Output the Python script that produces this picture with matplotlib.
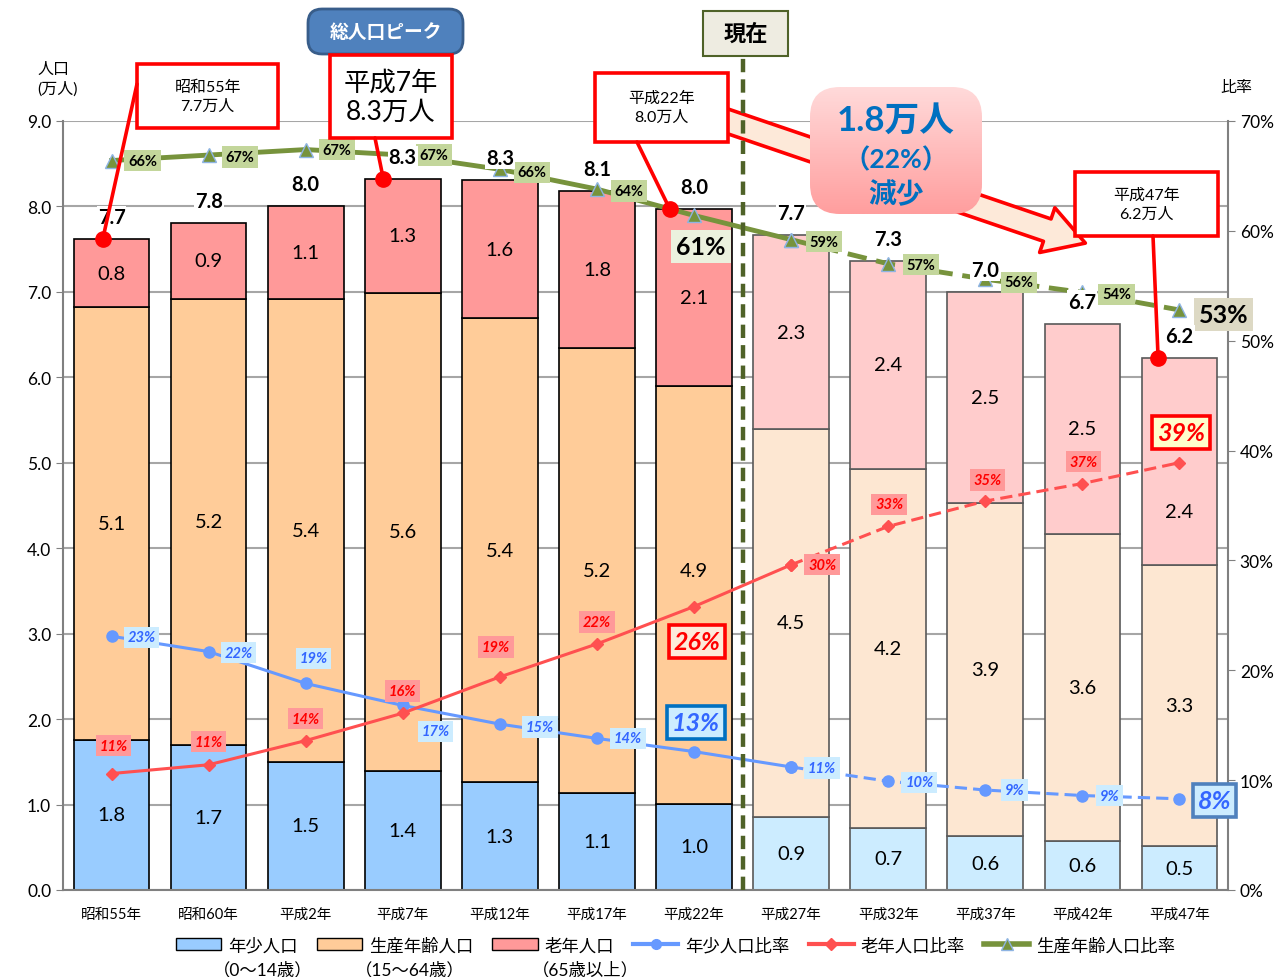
import matplotlib.pyplot as plt
import numpy as np
from matplotlib.patches import FancyBboxPatch, FancyArrowPatch, Rectangle, Patch, ConnectionPatch
from matplotlib.lines import Line2D
from matplotlib.colors import LinearSegmentedColormap

plt.rcParams['font.family'] = ['Lato', 'Noto Sans CJK JP', 'DejaVu Sans']

# 人口(万人)と比率(%)
years = ['昭和55年', '昭和60年', '平成2年', '平成7年', '平成12年', '平成17年',
         '平成22年', '平成27年', '平成32年', '平成37年', '平成42年', '平成47年']
young = [1.76, 1.70, 1.50, 1.39, 1.26, 1.14, 1.01, 0.86, 0.73, 0.63, 0.57, 0.51]
working = [5.06, 5.22, 5.42, 5.60, 5.43, 5.20, 4.89, 4.53, 4.20, 3.90, 3.60, 3.29]
old = [0.80, 0.89, 1.09, 1.33, 1.62, 1.84, 2.07, 2.27, 2.43, 2.47, 2.46, 2.43]
totals = [7.7, 7.8, 8.0, 8.3, 8.3, 8.1, 8.0, 7.7, 7.3, 7.0, 6.7, 6.2]
young_pct = [23.1, 21.7, 18.8, 16.8, 15.1, 13.8, 12.6, 11.2, 9.9, 9.1, 8.6, 8.3]
old_pct = [10.6, 11.4, 13.6, 16.1, 19.4, 22.4, 25.8, 29.6, 33.1, 35.4, 37.0, 38.9]
working_pct = [66.4, 66.9, 67.4, 66.9, 65.6, 63.8, 61.4, 59.2, 57.0, 55.6, 54.4, 52.8]

n = len(years)
x = np.arange(n)
n_past = 7  # 平成22年まで実績、以降は推計

W, H = 1287, 978
fig = plt.figure(figsize=(W / 100, H / 100), dpi=100)
ax = fig.add_axes([63 / W, 1 - 891 / H, (1228 - 63) / W, (891 - 122) / H])

def cols(c_past, c_fut):
    return [c_past if i < n_past else c_fut for i in range(n)]

edges = cols('black', '#595959')
bw = 0.78
bottom2 = np.array(young)
bottom3 = bottom2 + np.array(working)
tops = bottom3 + np.array(old)
ax.bar(x, young, bw, color=cols('#99CCFF', '#CCECFF'), edgecolor=edges, lw=1.2, zorder=2)
ax.bar(x, working, bw, bottom=bottom2, color=cols('#FFCC99', '#FDE7D2'), edgecolor=edges, lw=1.2, zorder=2)
ax.bar(x, old, bw, bottom=bottom3, color=cols('#FF9999', '#FFCCCC'), edgecolor=edges, lw=1.2, zorder=2)

# 数値ラベル (一部は重なり回避のため位置をずらす)
shift_working = {6: 0.29}
shift_old = {11: -0.58}
for i in range(n):
    ax.text(i, young[i] / 2, f'{young[i]:.1f}', ha='center', va='center', fontsize=14.5, zorder=3)
    ax.text(i, bottom2[i] + working[i] / 2 + shift_working.get(i, 0), f'{working[i]:.1f}',
            ha='center', va='center', fontsize=14.5, zorder=3)
    ax.text(i, bottom3[i] + old[i] / 2 + shift_old.get(i, 0), f'{old[i]:.1f}',
            ha='center', va='center', fontsize=14.5, zorder=3)

ax.set_xlim(-0.5, n - 0.5)
ax.set_ylim(0, 9)
ax.set_yticks(np.arange(0, 9.01, 1.0))
ax.set_yticklabels([f'{v:.1f}' for v in np.arange(0, 9.01, 1.0)])
ax.set_xticks(x)
ax.set_xticklabels(years, fontsize=10.5)
ax.tick_params(axis='x', length=0, pad=12)
ax.tick_params(axis='y', labelsize=12.5, length=5, color='#808080')
ax.grid(axis='y', color='#A6A6A6', lw=1.5)
ax.set_axisbelow(True)
for s in ['top', 'right']:
    ax.spines[s].set_visible(False)
for s in ['left', 'bottom']:
    ax.spines[s].set_color('#808080')
    ax.spines[s].set_linewidth(1.5)

ax2 = ax.twinx()
ax2.set_ylim(0, 70)
ax2.set_yticks(range(0, 71, 10))
ax2.set_yticklabels([f'{v}%' for v in range(0, 71, 10)])
ax2.tick_params(axis='y', labelsize=12.5, length=5, color='#808080')
for s in ['top', 'left', 'bottom']:
    ax2.spines[s].set_visible(False)
ax2.spines['right'].set_color('#808080')
ax2.spines['right'].set_linewidth(1.5)

series = [
    (young_pct, '#6699FF', 'o', dict(ms=8, mfc='#6699FF', mec='#6699FF')),
    (old_pct, '#FF5050', 'D', dict(ms=6, mfc='#FF5050', mec='#FF5050')),
    (working_pct, '#77933C', '^', dict(ms=10, mfc='#77933C', mec='#8EB4E3')),
]
for vals, c, m, kw in series:
    lw = 3.5 if c == '#77933C' else 2.2
    ax2.plot(x[:n_past + 1], vals[:n_past + 1], color=c, lw=lw, marker=m, zorder=4, **kw)
    ax2.plot(x[n_past:], vals[n_past:], color=c, lw=lw, marker=m, dashes=(4, 2), zorder=4, **kw)

young_off = [(30, -1), (30, -1), (8, 25), (33, -26), (40, -3), (31, 0), (2, 29),
             (31, -1), (31, -1), (29, 0), (27, 0), (35, -2)]
old_off = [(2, 28), (0, 23), (0, 22), (0, 22), (-4, 30), (0, 22), (3, -35),
           (31, 0), (1, 22), (2, 21), (1, 22), (2, 30)]
working_off = [(31, 0), (31, -2), (31, 0), (31, 0), (32, -3), (32, -2), (7, -31),
               (33, -2), (33, -1), (34, -3), (34, -2), (44, -5)]

small = {
    'young': dict(color='#3366FF', style='italic', bbox=dict(boxstyle='square,pad=0.25', fc='#CCECFF', ec='none')),
    'old': dict(color='#FF0000', style='italic', bbox=dict(boxstyle='square,pad=0.25', fc='#FF9999', ec='none')),
    'working': dict(color='black', style='normal', bbox=dict(boxstyle='square,pad=0.25', fc='#C3D69B', ec='none')),
}
big = {
    ('young', 6): dict(fc='#CCECFF', ec='#0070C0'),
    ('young', 11): dict(fc='#CCECFF', ec='#4F81BD'),
    ('old', 6): dict(fc='#FDEADA', ec='#FF0000'),
    ('old', 11): dict(fc='#FFFFCC', ec='#FF0000'),
    ('working', 6): dict(fc='#EBF1DE', ec='none'),
    ('working', 11): dict(fc='#DDD9C4', ec='none'),
}
for key, vals, offs in [('young', young_pct, young_off), ('old', old_pct, old_off),
                        ('working', working_pct, working_off)]:
    for i in range(n):
        st = dict(small[key])
        fs = 10.5
        if (key, i) in big:
            b = big[(key, i)]
            st['bbox'] = dict(boxstyle='square,pad=0.2', fc=b['fc'], ec=b['ec'], lw=2.6)
            fs = 18
        ax2.annotate(f'{vals[i]:.0f}%', (i, vals[i]), xytext=offs[i], textcoords='offset pixels',
                     ha='center', va='center', fontsize=fs, fontweight='bold', zorder=6, **st)

# 注釈用のピクセル座標レイヤー
ov = fig.add_axes([0, 0, 1, 1], zorder=3)
ov.axis('off')

# 合計値 (折れ線の上に表示)
for i in range(n):
    ov.annotate(f'{totals[i]:.1f}', (i, tops[i]), xycoords=ax.transData, xytext=(0, 22),
                textcoords='offset pixels', ha='center', va='center', fontsize=14.5,
                fontweight='bold', zorder=2,
                bbox=dict(boxstyle='square,pad=0.05', fc='white', ec='none'))

ov.text(37, 80, '人口\n(万人)', ha='left', va='center', fontsize=11.5, linespacing=1.35)
ov.text(1236, 88, '比率', ha='center', va='center', fontsize=11.5)

# 矢印
arr = FancyArrowPatch((715, 118), (1088, 245),
                      arrowstyle='simple,head_length=2.9,head_width=3.4,tail_width=1.7',
                      mutation_scale=10, fc='#FDE9D9', ec='#FF0000', lw=2.6, zorder=1)
ov.add_patch(arr)

# 現在
ov.plot([6.5, 6.5], [0, 9.76], transform=ax.transData, color='#4F6228', lw=3.2,
        dashes=(3, 1.6), zorder=2, clip_on=False)
ov.add_patch(Rectangle((703, 12), 85, 45, fc='#EEECE1', ec='#4F6228', lw=1.5, zorder=3))
ov.text(745.5, 34, '現在', ha='center', va='center', fontsize=16, fontweight='bold', zorder=4)

# 総人口ピーク
ov.add_patch(FancyBboxPatch((308, 10), 155, 45, boxstyle='round,pad=0,rounding_size=14',
                            fc='#4F81BD', ec='#385D8A', lw=2, zorder=3))
ov.text(385.5, 32, '総人口ピーク', ha='center', va='center', fontsize=13.5, color='white',
        fontweight='bold', zorder=4)

# 吹き出し
callouts = [
    ((137, 65, 141, 64), '昭和55年\n7.7万人', 11.5, (137, 85), 0, -0.09),
    ((330, 56, 122, 83), '平成7年\n8.3万人', 19, (375, 139), 3, -0.2),
    ((595, 74, 133, 69), '平成22年\n8.0万人', 11.5, (637, 143), 6, -0.25),
    ((1075, 173, 143, 64), '平成47年\n6.2万人', 11.5, (1153, 237), 11, -0.22),
]
for (bx, by, bwid, bh), txt, fs, start, idx, dx in callouts:
    ov.add_patch(Rectangle((bx, by), bwid, bh, fc='white', ec='#FF0000', lw=2.6, zorder=3))
    ov.text(bx + bwid / 2, by + bh / 2, txt, ha='center', va='center', fontsize=fs,
            linespacing=1.45 if fs < 15 else 1.2, zorder=4)
    cp = ConnectionPatch(xyA=start, coordsA=ov.transData, xyB=(idx + dx, tops[idx]),
                         coordsB=ax.transData, color='#FF0000', lw=2.6, zorder=5)
    ov.add_artist(cp)
    ov.plot([idx + dx], [tops[idx]], 'o', color='#FF0000', ms=11, transform=ax.transData,
            zorder=6, clip_on=False)

# 減少ボックス
pink = FancyBboxPatch((810, 88), 172, 127, boxstyle='round,pad=0,rounding_size=30',
                      fc='none', ec='none', zorder=4)
ov.add_patch(pink)
grad = np.linspace(0, 1, 100).reshape(-1, 1)
cmap = LinearSegmentedColormap.from_list('pk', ['#FFDADA', '#FF9E9E'])
im = ov.imshow(grad, extent=[810, 982, 215, 88], origin='upper', cmap=cmap, aspect='auto', zorder=4)
im.set_clip_path(pink)
ov.text(896, 121, '1.8万人', ha='center', va='center', fontsize=25, fontweight='bold',
        color='#0070C0', zorder=5)
ov.text(896, 160, '（22%）', ha='center', va='center', fontsize=19, fontweight='bold',
        color='#0070C0', zorder=5)
ov.text(896, 195, '減少', ha='center', va='center', fontsize=20, fontweight='bold',
        color='#0070C0', zorder=5)

ov.set_xlim(0, W)
ov.set_ylim(H, 0)

# 凡例
handles = [
    Patch(fc='#99CCFF', ec='black'),
    Patch(fc='#FFCC99', ec='black'),
    Patch(fc='#FF9999', ec='black'),
    Line2D([], [], color='#6699FF', lw=3, marker='o', ms=7),
    Line2D([], [], color='#FF5050', lw=3, marker='D', ms=6),
    Line2D([], [], color='#77933C', lw=4, marker='^', ms=9, mec='#8EB4E3'),
]
labels = ['年少人口', '生産年齢人口', '老年人口', '年少人口比率', '老年人口比率', '生産年齢人口比率']
fig.legend(handles, labels, loc='center', bbox_to_anchor=(0.525, 1 - 946 / H), ncol=6,
           frameon=False, fontsize=12.5, handlelength=2.6, columnspacing=1.1, handletextpad=0.4)
for px, t in [(263, '（0～14歳）'), (410, '（15～64歳）'), (585, '（65歳以上）')]:
    fig.text(px / W, 1 - 970 / H, t, ha='center', va='center', fontsize=12.5)

fig.savefig('out.png', dpi=100)
